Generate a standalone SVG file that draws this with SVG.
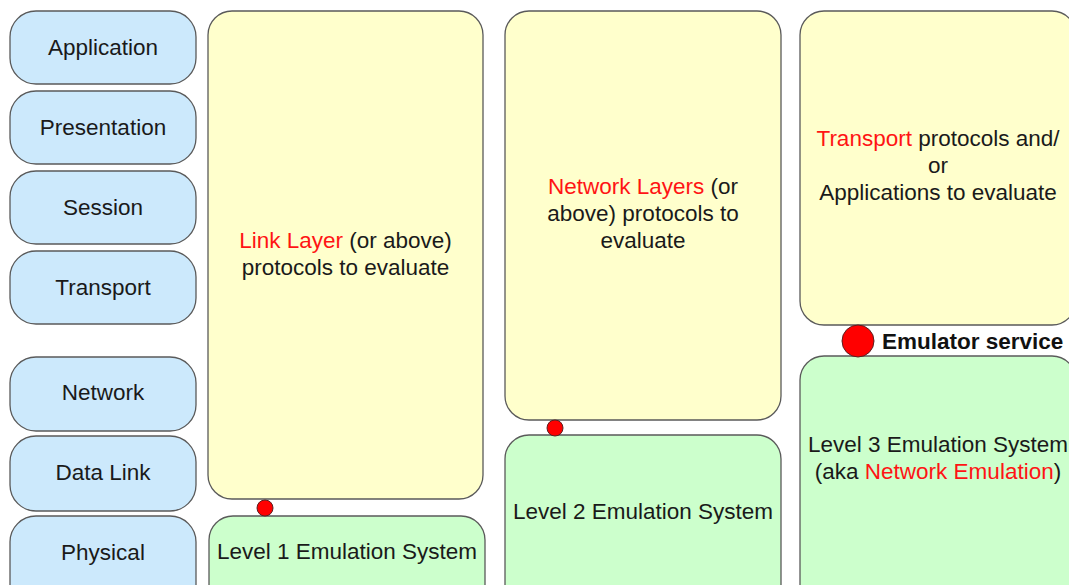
<svg xmlns="http://www.w3.org/2000/svg" width="1069" height="585" viewBox="0 0 1069 585">
<style>
  .box { stroke: #5a5a5a; stroke-width: 1.3; }
  .osi { fill: #cce9fc; }
  .eval { fill: #ffffcc; }
  .emu { fill: #ccffcc; }
  text { font-family: "Liberation Sans", Arial, sans-serif; font-size: 22.5px; fill: #1a1a1a; text-anchor: middle; }
  .red { fill: #ff1414; }
  .bold { font-weight: bold; text-anchor: start; fill: #111; }
  .dot { fill: #ff0000; stroke: #5a2020; stroke-width: 1; }
</style>
<rect width="1069" height="585" fill="#ffffff"/>

<g id="osi-application"><rect class="box osi" x="10" y="11" width="186" height="73" rx="26"/><text x="103" y="55">Application</text></g>
<g id="osi-presentation"><rect class="box osi" x="10" y="91" width="186" height="73" rx="26"/><text x="103" y="135">Presentation</text></g>
<g id="osi-session"><rect class="box osi" x="10" y="171" width="186" height="73" rx="26"/><text x="103" y="215">Session</text></g>
<g id="osi-transport"><rect class="box osi" x="10" y="251" width="186" height="73" rx="26"/><text x="103" y="295">Transport</text></g>
<g id="osi-network"><rect class="box osi" x="10" y="357" width="186" height="74" rx="26"/><text x="103" y="400">Network</text></g>
<g id="osi-datalink"><rect class="box osi" x="10" y="436" width="186" height="75" rx="26"/><text x="103" y="480">Data Link</text></g>
<g id="osi-physical"><rect class="box osi" x="10" y="516" width="186" height="100" rx="26"/><text x="103" y="560">Physical</text></g>

<g id="eval-link"><rect class="box eval" x="208" y="11" width="275" height="488" rx="24"/>
  <text x="345.5" y="248"><tspan class="red">Link Layer</tspan> (or above)</text>
  <text x="345.5" y="275">protocols to evaluate</text></g>
<g id="emu-level1"><rect class="box emu" x="209" y="516" width="276" height="100" rx="24"/><text x="347" y="559">Level 1 Emulation System</text></g>

<g id="eval-network"><rect class="box eval" x="505" y="11" width="276" height="409" rx="24"/>
  <text x="643" y="194"><tspan class="red">Network Layers</tspan> (or</text>
  <text x="643" y="221">above) protocols to</text>
  <text x="643" y="248">evaluate</text></g>
<g id="emu-level2"><rect class="box emu" x="505" y="435" width="276" height="180" rx="24"/><text x="643" y="519">Level 2 Emulation System</text></g>

<g id="eval-transport"><rect class="box eval" x="800" y="11" width="276" height="314" rx="24"/>
  <text x="938" y="146"><tspan class="red">Transport</tspan> protocols and/</text>
  <text x="938" y="173">or</text>
  <text x="938" y="200">Applications to evaluate</text></g>
<g id="emu-level3"><rect class="box emu" x="800" y="356" width="276" height="260" rx="24"/>
  <text x="938" y="452">Level 3 Emulation System</text>
  <text x="938" y="479">(aka <tspan class="red">Network Emulation</tspan>)</text></g>

<g id="connectors">
  <circle class="dot" cx="265" cy="508" r="8"/>
  <circle class="dot" cx="555" cy="428" r="8"/>
  <circle class="dot" cx="858" cy="341" r="16"/>
</g>
<g id="emulator-service-label"><text class="bold" x="882" y="349">Emulator service</text></g>
</svg>
